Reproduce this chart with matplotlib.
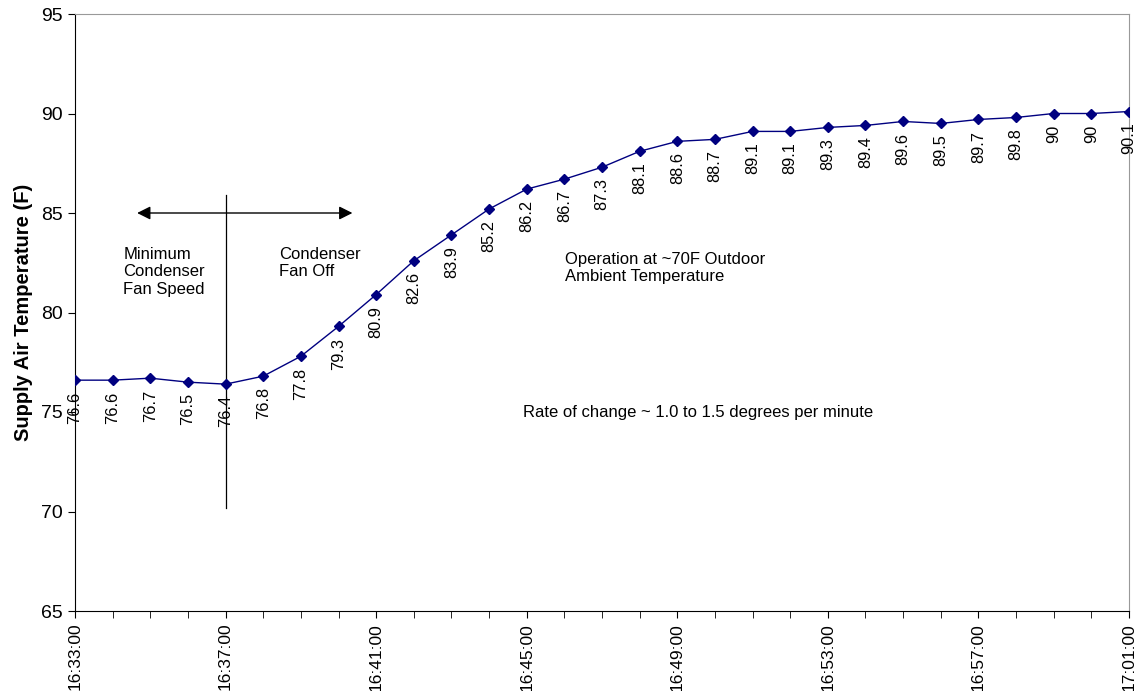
import matplotlib.pyplot as plt
import numpy as np

plt.rcParams['font.family'] = ['Liberation Sans', 'DejaVu Sans']

# readings, one per minute from 16:33:00 to 17:01:00
times = ['16:33:00', '16:34:00', '16:35:00', '16:36:00', '16:37:00', '16:38:00',
         '16:39:00', '16:40:00', '16:41:00', '16:42:00', '16:43:00', '16:44:00',
         '16:45:00', '16:46:00', '16:47:00', '16:48:00', '16:49:00', '16:50:00',
         '16:51:00', '16:52:00', '16:53:00', '16:54:00', '16:55:00', '16:56:00',
         '16:57:00', '16:58:00', '16:59:00', '17:00:00', '17:01:00']
temps = [76.6, 76.6, 76.7, 76.5, 76.4, 76.8, 77.8, 79.3, 80.9, 82.6, 83.9, 85.2,
         86.2, 86.7, 87.3, 88.1, 88.6, 88.7, 89.1, 89.1, 89.3, 89.4, 89.6, 89.5,
         89.7, 89.8, 90, 90, 90.1]
labeled_times = ['16:33:00', '16:37:00', '16:41:00', '16:45:00', '16:49:00',
                 '16:53:00', '16:57:00', '17:01:00']
y_ticks = [65, 70, 75, 80, 85, 90, 95]

x = np.arange(len(times))

fig = plt.figure(figsize=(11.38, 6.91), dpi=100)
ax = fig.add_axes([75 / 1138, 1 - 611 / 691, (1129 - 75) / 1138, (611 - 14) / 691])

ax.plot(x, temps, '-', color='#000080', linewidth=1, marker='D', markersize=5.5,
        zorder=3)

# value labels, rotated, just under each point
for xi, t in zip(x, temps):
    ax.annotate(f'{t:g}', (xi, t), xytext=(0, -8), textcoords='offset points',
                rotation=90, ha='center', va='top', fontsize=11.8)

# switch-over marker and arrows
ax.plot([4, 4], [70.2, 85.9], color='black', linewidth=0.9)
ax.annotate('', xy=(1.65, 85.0), xytext=(7.37, 85.0),
            arrowprops=dict(arrowstyle='<|-|>', color='black', lw=1,
                            mutation_scale=20, shrinkA=0, shrinkB=0))

ax.text(1.28, 83.3, 'Minimum\nCondenser\nFan Speed', fontsize=12, va='top',
        linespacing=1.2)
ax.text(5.43, 83.3, 'Condenser\nFan Off', fontsize=12, va='top', linespacing=1.2)
ax.text(13.03, 83.05, 'Operation at ~70F Outdoor\nAmbient Temperature', fontsize=12,
        va='top', linespacing=1.2)
ax.text(11.91, 75.35, 'Rate of change ~ 1.0 to 1.5 degrees per minute', fontsize=12,
        va='top')

ax.set_xlim(0, len(times) - 1)
ax.set_ylim(65, 95)
ax.set_yticks(y_ticks)
ax.tick_params(axis='y', labelsize=14, direction='out', length=5)
ax.set_xticks([times.index(t) for t in labeled_times])
ax.set_xticklabels(labeled_times, rotation=90, fontsize=12.5)
ax.set_xticks(x, minor=True)
ax.tick_params(axis='x', which='both', direction='out', length=5)

ax.set_ylabel('Supply Air Temperature (F)', fontsize=14.5, fontweight='bold',
              labelpad=6)

for s in ['top', 'right']:
    ax.spines[s].set_color('#999999')
for s in ['left', 'bottom']:
    ax.spines[s].set_color('black')

fig.savefig('out.png', dpi=100)
